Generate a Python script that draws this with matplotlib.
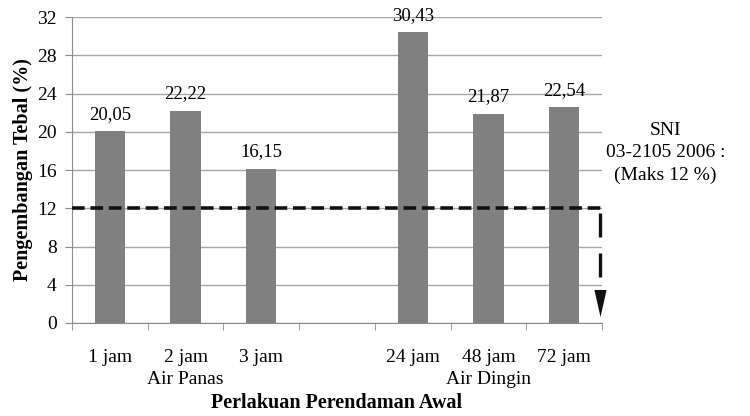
import numpy as np
import matplotlib
matplotlib.use("Agg")
import matplotlib.pyplot as plt
from matplotlib.transforms import blended_transform_factory

# data (empty slot separates the two groups)
categories = ["1 jam", "2 jam", "3 jam", "", "24 jam", "48 jam", "72 jam"]
values = [20.05, 22.22, 16.15, np.nan, 30.43, 21.87, 22.54]
value_labels = ["20,05", "22,22", "16,15", "", "30,43", "21,87", "22,54"]
groups = [("Air Panas", 1), ("Air Dingin", 5)]
limit = 12
yticks = [0, 4, 8, 12, 16, 20, 24, 28, 32]

plt.rcParams["font.family"] = ["Liberation Serif", "DejaVu Serif"]

fig = plt.figure(figsize=(7.5, 4.16), dpi=100)
ax = fig.add_axes([0.096, 0.2236, 0.7067, 0.7354])

x = np.arange(len(categories))
ax.bar(x, values, width=0.4, color="#808080", zorder=3)

for xi, v, lab in zip(x, values, value_labels):
    if np.isnan(v):
        continue
    ax.annotate(lab, (xi, v), xytext=(0, 6), textcoords="offset points",
                ha="center", va="bottom", fontsize=13.5, zorder=5)

ax.set_xlim(-0.5, len(categories) - 0.5)
ax.set_ylim(0, 32)
ax.set_yticks(yticks)
ax.yaxis.grid(True, color="#a6a6a6", linewidth=1)
ax.set_axisbelow(True)

ax.set_xticks(x)
ax.set_xticklabels(categories, fontsize=14)
ax.set_xticks(np.arange(len(categories) + 1) - 0.5, minor=True)
ax.tick_params(axis="x", which="major", length=0, pad=19)
ax.tick_params(axis="x", which="minor", length=5, color="#8c8c8c")
ax.tick_params(axis="y", labelsize=14, length=5, color="#8c8c8c", pad=6)

for s in ("top", "right"):
    ax.spines[s].set_visible(False)
for s in ("left", "bottom"):
    ax.spines[s].set_color("#8c8c8c")

trans = blended_transform_factory(ax.transData, ax.transAxes)
for name, pos in groups:
    ax.text(pos, -0.186, name, transform=trans, ha="center", va="center", fontsize=14)

# SNI limit line with downward dashed arrow at the right edge
ax.axhline(limit, color="#111111", linewidth=2.6, linestyle=(0, (3.5, 1.6)), zorder=4)
xr = len(categories) - 0.53
ax.plot([xr, xr], [11.5, 3.45], color="#111111", linewidth=2.4,
        linestyle=(0, (7.2, 4.8)), clip_on=False, zorder=4)
head = [(-0.45, 1), (0.45, 1), (0, -1)]
ax.plot([xr], [2.05], marker=head, markersize=19.5, color="#111111",
        markeredgewidth=0, clip_on=False, zorder=4)

fig.text(0.887, 0.632, "SNI\n03-2105 2006 :\n(Maks 12 %)", ha="center", va="center",
         fontsize=14, linespacing=1.42)

ax.set_ylabel("Pengembangan Tebal (%)", fontsize=14.5, fontweight="bold", labelpad=3)
fig.text(0.449, 0.032, "Perlakuan Perendaman Awal", ha="center", va="center",
         fontsize=14.5, fontweight="bold")

fig.savefig("out.png", dpi=100)
